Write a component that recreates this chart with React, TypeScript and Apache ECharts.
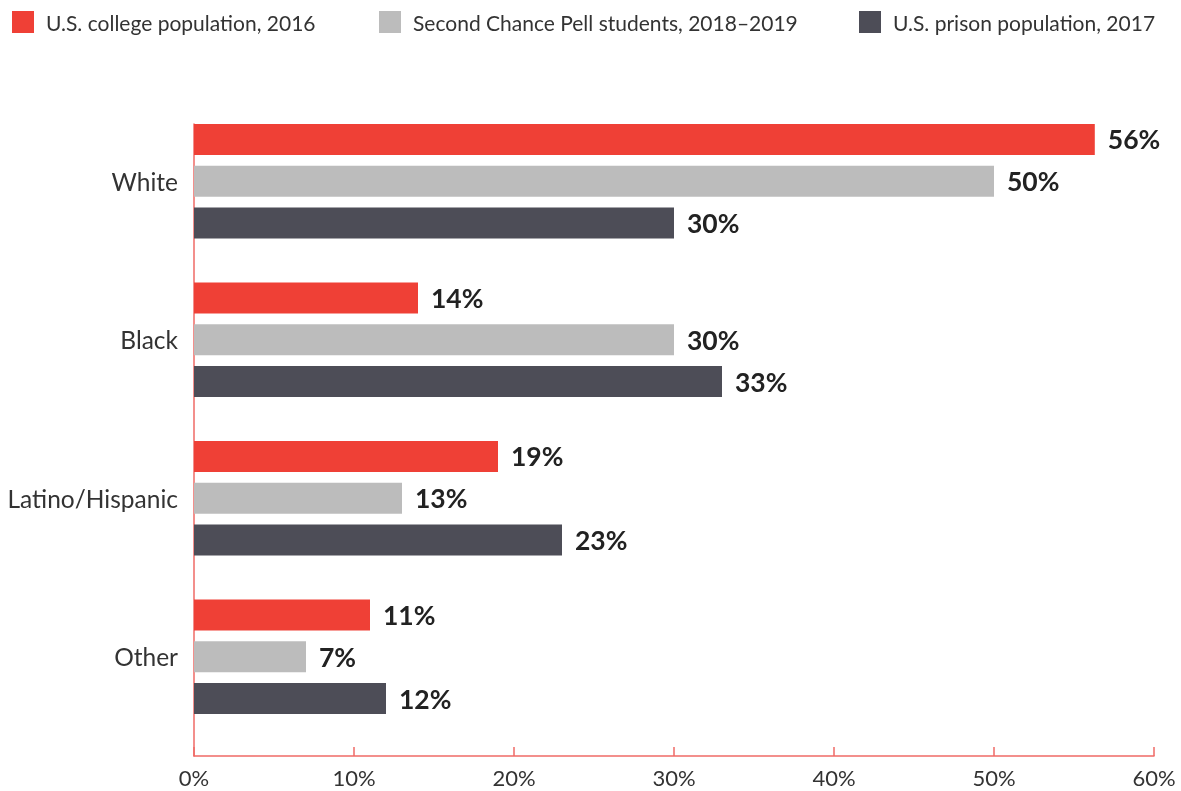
import React, { useEffect, useRef } from "react";
import * as echarts from "echarts";

const categories = ["White", "Black", "Latino/Hispanic", "Other"];
const seriesNames = [
  "U.S. college population, 2016",
  "Second Chance Pell students, 2018–2019",
  "U.S. prison population, 2017",
];
const collegeValues = [56.3, 14, 19, 11];
const pellValues = [50, 30, 13, 7];
const prisonValues = [30, 33, 23, 12];
const colors = ["#ef4036", "#bcbcbc", "#4d4d57"];
const axisColor = "#ef6a66";
const FONT = "Lato";

export default function App() {
  const ref = useRef<HTMLDivElement>(null);
  useEffect(() => {
    if (!ref.current) return;
    const chart = echarts.init(ref.current, undefined, { renderer: "svg" });
    const values = [collegeValues, pellValues, prisonValues];
    const legendLefts = [12, 379, 859];
    chart.setOption({
      animation: false,
      textStyle: { fontFamily: FONT },
      legend: seriesNames.map((n, i) => ({
        data: [n],
        left: legendLefts[i],
        top: 11,
        padding: 0,
        itemWidth: 22,
        itemHeight: 22,
        icon: "rect",
        selectedMode: false,
        textStyle: { fontSize: 21, color: "#333", fontFamily: FONT, padding: [0, 0, 0, 7] },
      })),
      grid: [
        { left: 194, right: 27, top: 102, height: 634 },
        { left: 194, right: 27, top: 124, bottom: 35 },
      ],
      xAxis: [
        { type: "value", gridIndex: 0, min: 0, max: 60, interval: 10, show: false },
        {
          type: "value",
          gridIndex: 1,
          min: 0,
          max: 60,
          interval: 10,
          axisLine: { show: true, lineStyle: { color: axisColor, width: 1.5 } },
          axisTick: { show: true, inside: true, length: 9, lineStyle: { color: axisColor, width: 1.5 } },
          splitLine: { show: false },
          axisLabel: {
            formatter: "{value}%",
            fontSize: 22,
            color: "#333",
            margin: 10,
            fontFamily: FONT,
          },
        },
      ],
      yAxis: [
        {
          type: "category",
          gridIndex: 0,
          data: categories,
          inverse: true,
          axisLine: { show: false },
          axisTick: { show: false },
          axisLabel: { fontSize: 24.5, color: "#333", margin: 16, fontFamily: FONT },
        },
        {
          type: "value",
          gridIndex: 1,
          min: 0,
          max: 1,
          axisLine: { show: true, lineStyle: { color: axisColor, width: 1.5 } },
          axisTick: { show: false },
          axisLabel: { show: false },
          splitLine: { show: false },
        },
      ],
      series: seriesNames.map((n, i) => ({
        name: n,
        type: "bar",
        xAxisIndex: 0,
        yAxisIndex: 0,
        data: values[i],
        barWidth: 31,
        barGap: "35%",
        itemStyle: { color: colors[i] },
        label: {
          show: true,
          position: "right",
          distance: 13,
          formatter: (p: any) => Math.round(p.value) + "%",
          fontSize: 26.5,
          fontWeight: "bold",
          color: "#222",
          fontFamily: FONT,
        },
      })),
    });
    return () => chart.dispose();
  }, []);
  return (
    <div
      ref={ref}
      style={{ position: "fixed", left: 0, top: 0, width: 1181, height: 791 }}
    />
  );
}
